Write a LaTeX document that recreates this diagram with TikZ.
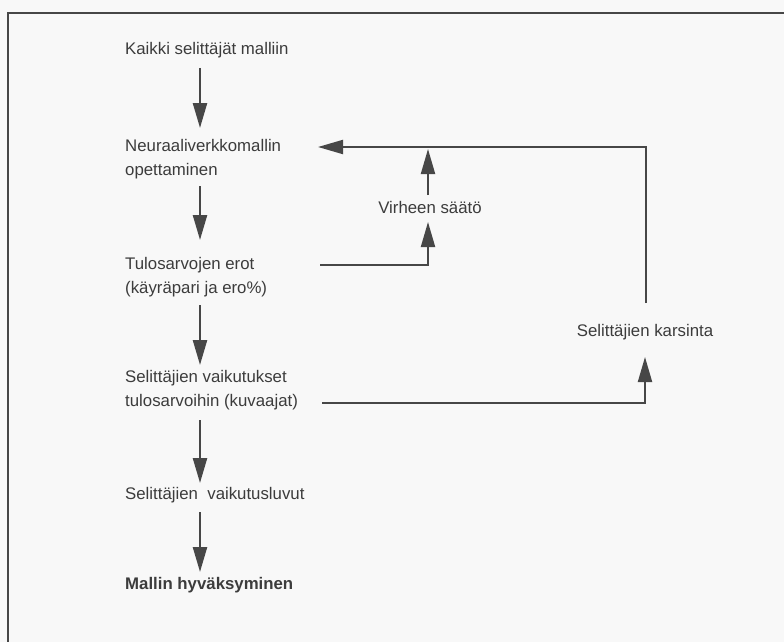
\documentclass[tikz,border=0pt]{standalone}
\usepackage{fontspec}
\setmainfont{Liberation Sans}
\usetikzlibrary{arrows.meta,calc}
\definecolor{bg}{HTML}{F8F8F8}
\definecolor{ink}{HTML}{3C3C3C}
\definecolor{linec}{HTML}{474747}
\begin{document}
\begin{tikzpicture}[x=1pt,y=-1pt,
  lbl/.style={anchor=west,inner sep=0pt,align=left,text=ink,
    font=\fontsize{16.8}{24}\selectfont},
  clbl/.style={anchor=center,inner sep=0pt,text=ink,
    font=\fontsize{16.8}{24}\selectfont},
  arr/.style={draw=linec,line width=2.4pt,
    -{Triangle[length=25pt,width=14pt]}},
  frame/.style={draw=linec,line width=2pt}]
\fill[bg] (0,0) rectangle (784,642);
\useasboundingbox (0,0) rectangle (784,642);
\draw[frame] (8,642) -- (8,13) -- (784,13);

\node[lbl] (k) at (125,50) {Kaikki selittäjät malliin};
\node[lbl] (n) at (125,159) {Neuraaliverkkomallin\\opettaminen};
\node[lbl] (t) at (125,277.5) {Tulosarvojen erot\\(käyräpari ja ero\%)};
\node[lbl] (s) at (125,390.5) {Selittäjien vaikutukset\\tulosarvoihin (kuvaajat)};
\node[lbl] (v) at (125,495) {Selittäjien\ \ vaikutusluvut};
\node[lbl,font=\fontsize{16.8}{24}\selectfont\bfseries] (m) at (125,585) {Mallin hyväksyminen};
\node[clbl] (vs) at (430,207) {Virheen säätö};
\node[clbl] (sk) at (645,332) {Selittäjien karsinta};

\coordinate (ax) at (200,0);
\draw[arr] ($(k.center -| ax)+(0,18)$) -- ($(n.center -| ax)+(0,-31)$);
\draw[arr] ($(n.center -| ax)+(0,27)$) -- ($(t.center -| ax)+(0,-37.5)$);
\draw[arr] ($(t.center -| ax)+(0,27.5)$) -- ($(s.center -| ax)+(0,-25.5)$);
\draw[arr] ($(s.center -| ax)+(0,29.5)$) -- ($(v.center -| ax)+(0,-12)$);
\draw[arr] ($(v.center -| ax)+(0,17)$) -- ($(m.center -| ax)+(0,-13)$);

% feedback loops
\draw[arr,line width=2pt] ($(sk.center)+(1,-29)$) |- ($(n.west)+(193,-12)$);
\draw[arr,line width=2pt] ($(vs.center)+(-2,-12)$) -- ($(vs.center)+(-2,-58)$);
\draw[arr,line width=2pt] ($(t.west)+(195,-12.5)$) -| ($(vs.center)+(-2,15)$);
\draw[arr,line width=2pt] ($(s.west)+(197,12.5)$) -| ($(sk.center)+(0,25)$);
\end{tikzpicture}
\end{document}
